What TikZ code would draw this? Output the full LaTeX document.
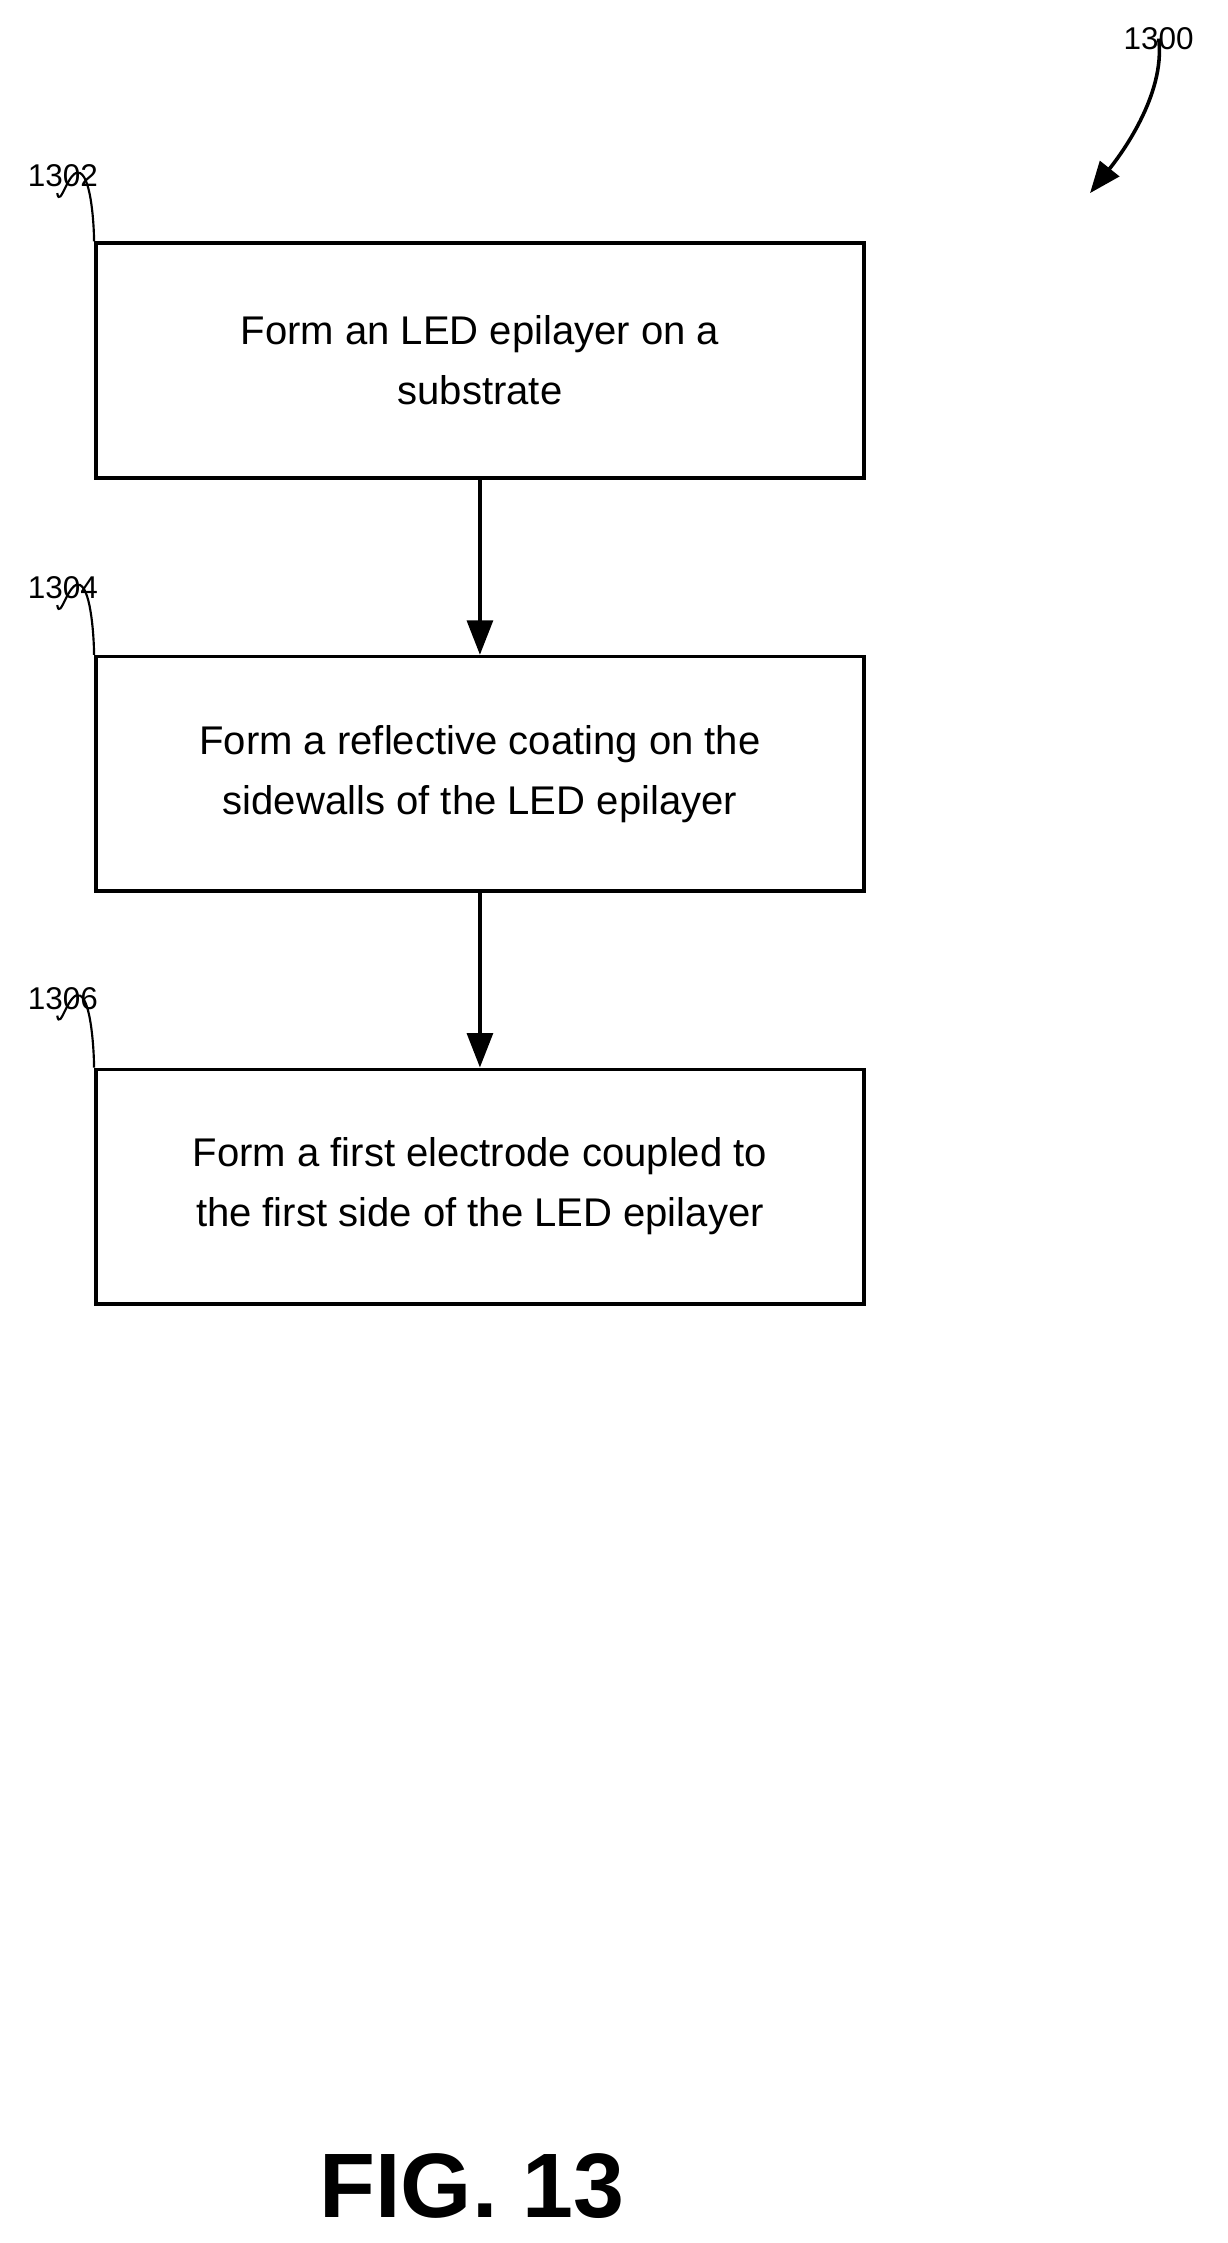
\documentclass[tikz,border=0pt]{standalone}
\usepackage{fontspec}
\setmainfont{Liberation Sans}
\usetikzlibrary{arrows.meta}
\begin{document}
\begin{tikzpicture}[x=1pt,y=-1pt,
  box/.style={draw,line width=2.5pt,minimum width=537pt,minimum height=164pt,align=center,font=\fontsize{28}{42}\selectfont,inner sep=0pt},
  lab/.style={font=\fontsize{22}{26}\selectfont,inner sep=0pt},
  arr/.style={line width=2.5pt,-{Triangle[length=24pt,width=18pt]}},
  lead/.style={line width=1.5pt}]
\useasboundingbox (0,0) rectangle (858,1568);
\node[box] (b1) at (335.5,252) {Form an LED epilayer on a\\substrate};
\node[box] (b2) at (335.5,541) {Form a reflective coating on the\\sidewalls of the LED epilayer};
\node[box] (b3) at (335.5,829.5) {Form a first electrode coupled to\\the first side of the LED epilayer};
\draw[arr] (b1) -- (b2);
\draw[arr] (b2) -- (b3);
\node[lab] (l1) at (44,123) {1302};
\node[lab] (l2) at (44,411) {1304};
\node[lab] (l3) at (44,698) {1306};
\foreach \l/\b in {l1/b1,l2/b2,l3/b3}{
  \draw[lead] ([xshift=-4pt,yshift=-4pt]\l.south) .. controls +(2,12) and +(-8,-4) .. ([xshift=12pt,yshift=10pt]\l.south) .. controls +(8,4) and +(0,-10) .. (\b.north west);
}
\node[lab] (l0) at (810,27) {1300};
\coordinate (a0) at (762,135);
\draw[line width=2.5pt,-{Triangle[length=22pt,width=17pt]}] ([yshift=8pt]l0.south) .. controls +(5,40) and +(20,-25) .. (a0);
\node[font=\bfseries\fontsize{64}{70}\selectfont,inner sep=0pt] (fig) at (330,1528) {FIG. 13};
\end{tikzpicture}
\end{document}
